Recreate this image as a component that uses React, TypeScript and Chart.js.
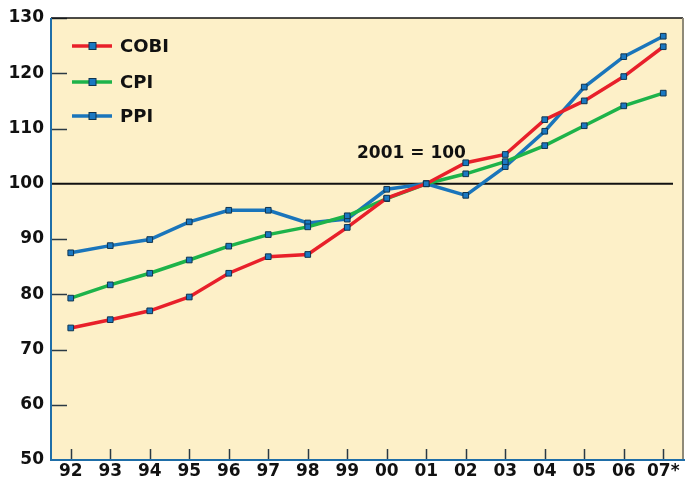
import React, { useEffect, useRef } from "react";
import { Chart, registerables } from "chart.js";

Chart.register(...registerables);

const years = ["92", "93", "94", "95", "96", "97", "98", "99", "00", "01", "02", "03", "04", "05", "06", "07*"];
const cobi = [73.9, 75.4, 77.0, 79.5, 83.8, 86.8, 87.2, 92.1, 97.4, 100, 103.8, 105.3, 111.6, 115.0, 119.4, 124.8];
const cpi = [79.3, 81.7, 83.8, 86.2, 88.7, 90.8, 92.2, 94.2, 97.3, 100, 101.8, 104.0, 106.9, 110.5, 114.1, 116.4];
const ppi = [87.5, 88.8, 89.9, 93.1, 95.2, 95.2, 92.9, 93.6, 99.0, 100, 97.9, 103.1, 109.5, 117.5, 123.0, 126.7];
const yTicks = [50, 60, 70, 80, 90, 100, 110, 120, 130];
const seriesNames = ["COBI", "CPI", "PPI"];
const seriesColors = ["#e8202a", "#1db34a", "#1a75bb"];
const baseValue = 100;
const baseLabel = "2001 = 100";

const FONT = "'DejaVu Sans', sans-serif";
const MARKER_FILL = "#1a78c2";
const MARKER_BORDER = "#10344f";

const decorPlugin = {
  id: "decor",
  beforeDraw(chart: any) {
    const { ctx, chartArea: a } = chart;
    ctx.save();
    ctx.fillStyle = "#fdf0c8";
    ctx.fillRect(a.left, a.top, a.right - a.left, a.bottom - a.top);
    ctx.restore();
  },
  beforeDatasetsDraw(chart: any) {
    const { ctx, chartArea: a, scales } = chart;
    const x = scales.x;
    const y = scales.y;
    ctx.save();
    ctx.strokeStyle = "#2b3a44";
    ctx.lineWidth = 1.5;
    yTicks.forEach((v) => {
      if (v === 50 || v === 100) return;
      const py = Math.round(y.getPixelForValue(v)) + 0.5;
      ctx.beginPath();
      ctx.moveTo(a.left, py);
      ctx.lineTo(a.left + 16, py);
      ctx.stroke();
    });
    years.forEach((_, i) => {
      const px = Math.round(x.getPixelForValue(i)) + 0.5;
      ctx.beginPath();
      ctx.moveTo(px, a.bottom);
      ctx.lineTo(px, a.bottom - 11);
      ctx.stroke();
    });
    const by = y.getPixelForValue(baseValue);
    ctx.strokeStyle = "#111";
    ctx.lineWidth = 2;
    ctx.beginPath();
    ctx.moveTo(a.left, by);
    ctx.lineTo(a.right - 10, by);
    ctx.stroke();
    ctx.fillStyle = "#111";
    ctx.font = `bold 17px ${FONT}`;
    ctx.textAlign = "left";
    ctx.textBaseline = "middle";
    ctx.fillText(baseLabel, 357, by - 30);
    ctx.lineWidth = 1.5;
    ctx.strokeStyle = "#111";
    ctx.beginPath();
    ctx.moveTo(a.left, a.top);
    ctx.lineTo(a.right, a.top);
    ctx.stroke();
    ctx.strokeStyle = "#8f8a78";
    ctx.lineWidth = 2;
    ctx.beginPath();
    ctx.moveTo(a.right, a.top);
    ctx.lineTo(a.right, a.bottom);
    ctx.stroke();
    ctx.strokeStyle = "#1f6ea8";
    ctx.lineWidth = 2;
    ctx.beginPath();
    ctx.moveTo(a.left, a.top);
    ctx.lineTo(a.left, a.bottom);
    ctx.lineTo(a.right + 2, a.bottom);
    ctx.stroke();
    ctx.restore();
  },
  afterDraw(chart: any) {
    const { ctx } = chart;
    ctx.save();
    const rows = [46, 82, 116];
    seriesNames.forEach((name, i) => {
      const yy = rows[i];
      ctx.strokeStyle = seriesColors[i];
      ctx.lineWidth = 3.5;
      ctx.beginPath();
      ctx.moveTo(72, yy);
      ctx.lineTo(112, yy);
      ctx.stroke();
      ctx.fillStyle = MARKER_FILL;
      ctx.strokeStyle = MARKER_BORDER;
      ctx.lineWidth = 1;
      ctx.fillRect(89, yy - 3.5, 7, 7);
      ctx.strokeRect(89, yy - 3.5, 7, 7);
      ctx.fillStyle = "#111";
      ctx.font = `bold 18px ${FONT}`;
      ctx.textAlign = "left";
      ctx.textBaseline = "middle";
      ctx.fillText(name, 120, yy + 1);
    });
    ctx.restore();
  },
};

export default function App() {
  const ref = useRef<HTMLCanvasElement | null>(null);
  useEffect(() => {
    document.body.style.margin = "0";
    const data = [cobi, cpi, ppi];
    const chart = new Chart(ref.current as HTMLCanvasElement, {
      type: "line",
      data: {
        labels: years,
        datasets: seriesNames.map((n, i) => ({
          label: n,
          data: data[i],
          borderColor: seriesColors[i],
          borderWidth: 3.5,
          pointStyle: "rect",
          pointRadius: 4,
          pointBackgroundColor: MARKER_FILL,
          pointBorderColor: MARKER_BORDER,
          pointBorderWidth: 1,
          tension: 0,
        })),
      },
      options: {
        animation: false,
        responsive: false,
        maintainAspectRatio: false,
        layout: { padding: { top: 18, right: 11, left: 0, bottom: 0 } },
        plugins: { legend: { display: false }, tooltip: { enabled: false } },
        scales: {
          x: {
            offset: true,
            grid: { display: false, drawTicks: false },
            border: { display: false },
            ticks: { color: "#111", font: { family: FONT, size: 17, weight: "bold" }, padding: 1, maxRotation: 0, autoSkip: false },
            afterFit: (s: any) => { s.height = 18; },
          },
          y: {
            min: 50,
            max: 130,
            grid: { display: false, drawTicks: false },
            border: { display: false },
            ticks: { stepSize: 10, color: "#111", font: { family: FONT, size: 17, weight: "bold" }, padding: 7 },
            afterFit: (s: any) => { s.width = 51; },
          },
        },
      },
      plugins: [decorPlugin],
    } as any);
    return () => chart.destroy();
  }, []);
  return (
    <div style={{ position: "absolute", left: 0, top: 0, width: 694, height: 478 }}>
      <canvas ref={ref} width={694} height={478} style={{ width: 694, height: 478 }} />
    </div>
  );
}
